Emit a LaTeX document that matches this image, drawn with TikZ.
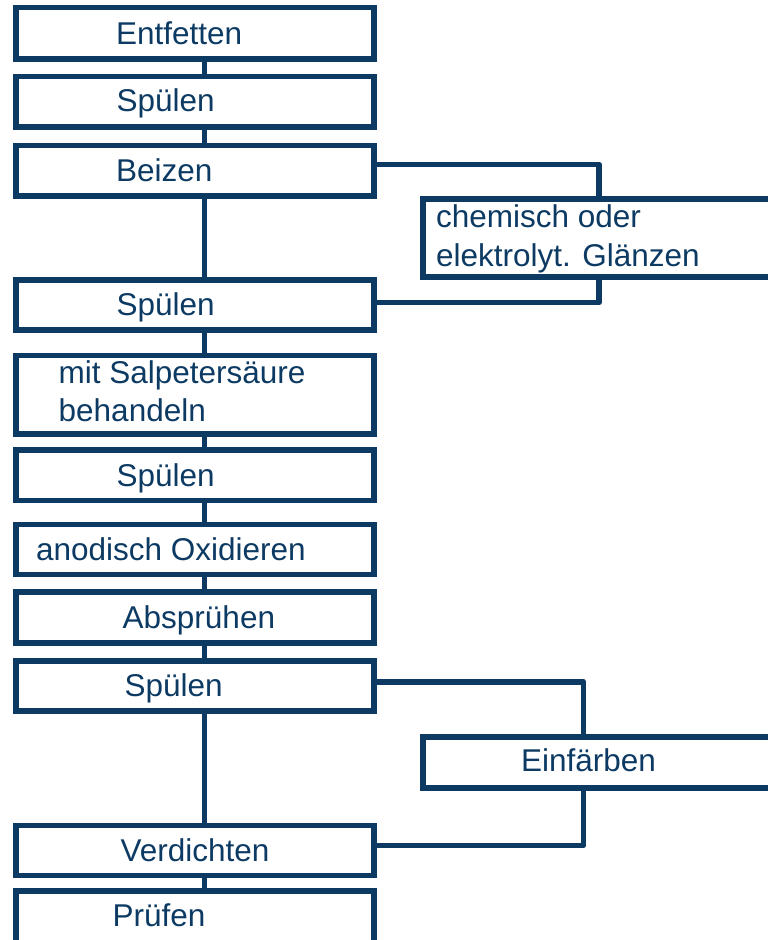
\documentclass[tikz,border=0pt]{standalone}
\usepackage{fontspec}
\setmainfont{Liberation Sans}
\definecolor{navy}{RGB}{12,58,99}
\begin{document}
\begin{tikzpicture}[x=1pt,y=-1pt,
  flowbox/.style={draw=navy, line width=5.8pt, inner sep=0pt, outer sep=0pt},
  leftbox/.style={flowbox, minimum width=358pt},
  sidebox/.style={flowbox, minimum width=367pt},
  label/.style={text=navy, inner sep=0pt, outer sep=0pt, anchor=base west,
    align=left, font=\fontsize{31.5}{38.7}\selectfont},
  link/.style={draw=navy, line width=5.8pt, line join=round}]
\useasboundingbox (0,0) rectangle (768,940);
\clip (0,0) rectangle (768,940);

% main line of process steps
\node[leftbox, minimum height=51.5pt] (n1)  at (195,33.25)  {};
\node[leftbox, minimum height=50.5pt] (n2)  at (195,101.75) {};
\node[leftbox, minimum height=50.5pt] (n3)  at (195,170.75) {};
\node[leftbox, minimum height=50.3pt] (n4)  at (195,305.15) {};
\node[leftbox, minimum height=78.2pt] (n5)  at (195,394.6)  {};
\node[leftbox, minimum height=50.5pt] (n6)  at (195,475.25) {};
\node[leftbox, minimum height=50pt]   (n7)  at (195,549.5)  {};
\node[leftbox, minimum height=51.3pt] (n8)  at (195,617.65) {};
\node[leftbox, minimum height=50pt]   (n9)  at (195,686)    {};
\node[leftbox, minimum height=50pt]   (n10) at (195,850.5)  {};
\node[leftbox, minimum height=55pt]   (n11) at (195,918.5)  {};

% optional side steps
\node[sidebox, minimum height=78pt]   (s1) at (606.8,238)   {};
\node[sidebox, minimum height=51.3pt] (s2) at (606.8,762.35) {};

% labels (multi-line labels sit on the baseline of their last line)
\node[label] (t1)  at (116,44.3)  {Entfetten};
\node[label] (t2)  at (116.5,111.7) {Spülen};
\node[label] (t3)  at (116,181)   {Beizen};
\node[label] (t4)  at (116.5,315) {Spülen};
\node[label] (t5)  at (58.7,421.7) {mit Salpetersäure\\behandeln};
\node[label] (t6)  at (116.5,486.7) {Spülen};
\node[label] (t7)  at (36,560)    {anodisch Oxidieren};
\node[label] (t8)  at (122.7,628.3) {Absprühen};
\node[label] (t9)  at (124.5,696.7) {Spülen};
\node[label] (t10) at (120.5,861) {Verdichten};
\node[label] (t11) at (112.5,926.7) {Prüfen};
\node[label] (ts1) at (436,266) {chemisch oder\\elektrolyt. Glänzen};
\node[label] (ts2) at (521,771.7) {Einfärben};

% vertical spine
\coordinate (spine) at (204.5,0);
\foreach \a/\b in {n1/n2,n2/n3,n3/n4,n4/n5,n5/n6,n6/n7,n7/n8,n8/n9,n9/n10,n10/n11}
  \draw[link] (\a.south -| spine) -- (\b.north -| spine);

% branch around the brightening step
\coordinate (ja) at (599,164.5);
\coordinate (jb) at (599,302.5);
\draw[link] (ja -| n3.east) -- (ja) -- (ja |- s1.north);
\draw[link] (s1.south -| jb) -- (jb) -- (jb -| n4.east);

% branch around the colouring step
\coordinate (jc) at (583.5,682);
\coordinate (jd) at (583.5,845.5);
\draw[link] (jc -| n9.east) -- (jc) -- (jc |- s2.north);
\draw[link] (s2.south -| jd) -- (jd) -- (jd -| n10.east);
\end{tikzpicture}
\end{document}
